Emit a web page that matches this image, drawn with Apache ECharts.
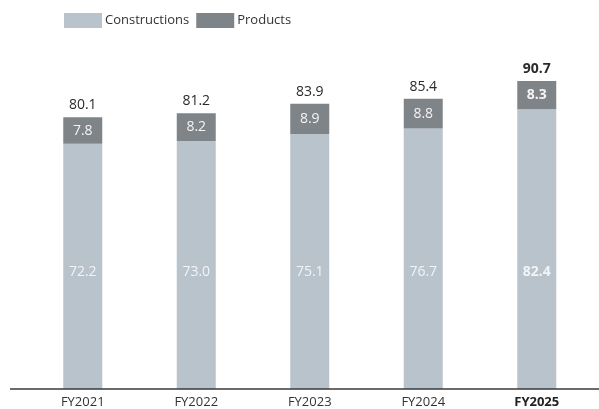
<!DOCTYPE html>
<html>
<head>
<meta charset="utf-8">
<script src="https://cdn.jsdelivr.net/npm/echarts@6/dist/echarts.min.js"></script>
<style>
  html, body { margin: 0; padding: 0; background: #ffffff; }
  #chart { width: 599px; height: 409px; }
</style>
</head>
<body>
<div id="chart"></div>
<script>
// Fiscal years on the x axis
const years = ['FY2021', 'FY2022', 'FY2023', 'FY2024', 'FY2025'];
// Segment values (stacked)
const constructions = [72.2, 73.0, 75.1, 76.7, 82.4];
const products = [7.8, 8.2, 8.9, 8.8, 8.3];
// Reported totals shown above each column
const totals = [80.1, 81.2, 83.9, 85.4, 90.7];

const FONT = '"Open Sans", "Noto Sans", sans-serif';
const highlightIndex = years.length - 1;

const chart = echarts.init(document.getElementById('chart'), null, { renderer: 'canvas' });

function bolden(values) {
  return values.map((v, i) => i === highlightIndex
    ? { value: v, label: { fontWeight: 'bold' } }
    : v);
}

chart.setOption({
  animation: false,
  textStyle: { fontFamily: FONT },
  legend: {
    data: ['Constructions', 'Products'],
    left: 59,
    top: 8,
    itemWidth: 38,
    itemHeight: 15,
    itemGap: 7,
    icon: 'rect',
    textStyle: { fontFamily: FONT, fontSize: 13, color: '#333', padding: [0, 0, 0, -2] }
  },
  grid: { left: 26, right: 5.5, top: 49.4, bottom: 20, containLabel: false },
  xAxis: {
    type: 'category',
    data: years,
    axisLine: { show: false },
    axisTick: { show: false },
    axisLabel: {
      margin: 7,
      fontSize: 13,
      color: '#333',
      formatter: (v, i) => i === highlightIndex ? '{b|' + v + '}' : v,
      rich: { b: { fontWeight: 'bold', fontSize: 13, color: '#222', fontFamily: FONT } }
    }
  },
  yAxis: {
    type: 'value',
    min: 0,
    max: 100,
    show: false,
    splitLine: { show: false }
  },
  graphic: [{
    type: 'line',
    shape: { x1: 10, y1: 389, x2: 599, y2: 389 },
    style: { stroke: '#3a3a3a', lineWidth: 1.6 },
    z: 10
  }],
  series: [
    {
      name: 'Constructions',
      type: 'bar',
      stack: 'total',
      barWidth: 39,
      itemStyle: { color: '#b9c3cc' },
      label: {
        show: true,
        position: 'insideBottom',
        distance: 110,
        fontSize: 14,
        color: '#f2f4f6',
        formatter: p => p.value.toFixed(1)
      },
      data: bolden(constructions)
    },
    {
      name: 'Products',
      type: 'bar',
      stack: 'total',
      barWidth: 39,
      itemStyle: { color: '#7f8489' },
      label: {
        show: true,
        position: 'inside',
        fontSize: 14,
        color: '#f4f4f4',
        formatter: p => p.value.toFixed(1)
      },
      data: bolden(products)
    },
    {
      // zero-height cap carrying the total label
      name: 'Total',
      type: 'bar',
      stack: 'total',
      barWidth: 39,
      itemStyle: { color: 'transparent' },
      label: {
        show: true,
        position: 'top',
        distance: 5,
        fontSize: 14,
        color: '#2a2a2a',
        formatter: p => totals[p.dataIndex].toFixed(1)
      },
      data: bolden(years.map(() => 0))
    }
  ]
});
</script>
</body>
</html>
